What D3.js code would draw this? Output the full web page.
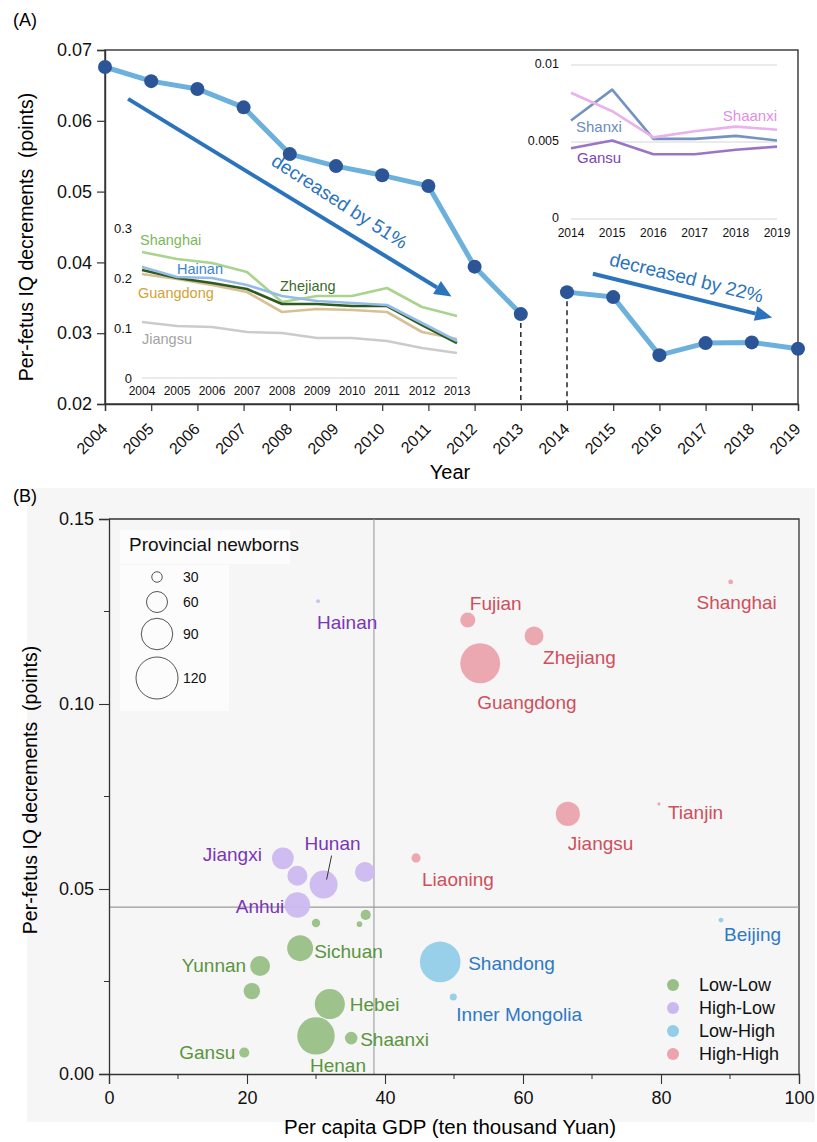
<!DOCTYPE html>
<html>
<head>
<meta charset="utf-8">
<script src="https://cdn.jsdelivr.net/npm/d3@7"></script>
<style>
  html, body { margin: 0; padding: 0; background: #ffffff; }
  svg { display: block; font-family: "Liberation Sans", Arial, Helvetica, sans-serif; }
</style>
</head>
<body>
<svg id="chart" width="817" height="1142"></svg>
<script>
// ---------- Panel A: national trend ----------
const yearsA = [2004, 2005, 2006, 2007, 2008, 2009, 2010, 2011, 2012, 2013, 2014, 2015, 2016, 2017, 2018, 2019];
const iqNational = [0.0676, 0.0656, 0.0645, 0.0619, 0.0553, 0.0536, 0.0523, 0.0508, 0.0394, 0.0327,
                    0.0358, 0.0351, 0.0269, 0.0286, 0.0287, 0.0278];
const yTicksA = [0.02, 0.03, 0.04, 0.05, 0.06, 0.07];

// Provincial detail, 2004-2013
const yearsEarly = [2004, 2005, 2006, 2007, 2008, 2009, 2010, 2011, 2012, 2013];
const shanghaiEarly  = [0.252, 0.238, 0.230, 0.212, 0.152, 0.164, 0.164, 0.180, 0.142, 0.124];
const hainanEarly    = [0.222, 0.202, 0.200, 0.186, 0.164, 0.154, 0.150, 0.146, 0.110, 0.074];
const zhejiangEarly  = [0.216, 0.200, 0.190, 0.178, 0.148, 0.148, 0.144, 0.144, 0.106, 0.070];
const guangdongEarly = [0.208, 0.198, 0.186, 0.172, 0.132, 0.138, 0.136, 0.132, 0.092, 0.078];
const jiangsuEarly   = [0.112, 0.104, 0.102, 0.092, 0.090, 0.080, 0.080, 0.074, 0.060, 0.050];
const yTicksEarly = [0, 0.1, 0.2, 0.3];

// Provincial detail, 2014-2019
const yearsLate = [2014, 2015, 2016, 2017, 2018, 2019];
const shanxiLate  = [0.0064, 0.0084, 0.0052, 0.0052, 0.0054, 0.0051];
const shaanxiLate = [0.0082, 0.0070, 0.0053, 0.0057, 0.0060, 0.0058];
const gansuLate   = [0.0046, 0.0051, 0.0042, 0.0042, 0.0045, 0.0047];
const yTicksLate = [0, 0.005, 0.01];

// ---------- Panel B: provinces ----------
const provinces = ["Shanghai", "Fujian", "Zhejiang", "Guangdong", "Jiangsu", "Tianjin", "Liaoning",
                   "Beijing", "Shandong", "Inner Mongolia",
                   "Hainan", "Jiangxi", "", "Hunan", "", "Anhui",
                   "", "", "", "Sichuan", "Yunnan", "", "Hebei", "Henan", "Shaanxi", "Gansu"];
const gdp = [90.1, 52.0, 61.6, 53.8, 66.5, 79.7, 44.5,
             88.7, 48.0, 49.9,
             30.3, 25.2, 27.3, 31.1, 37.1, 27.3,
             30.0, 36.3, 37.2, 27.7, 21.9, 20.7, 32.0, 30.0, 35.1, 19.6];
const iqProvince = [0.1330, 0.1227, 0.1184, 0.1110, 0.0703, 0.0730, 0.0584,
                    0.0416, 0.0303, 0.0208,
                    0.1278, 0.0583, 0.0536, 0.0512, 0.0546, 0.0457,
                    0.0408, 0.0405, 0.0430, 0.0340, 0.0292, 0.0224, 0.0189, 0.0103, 0.0097, 0.0058];
const newborns = [14, 43, 54, 114, 69, 9, 26,
                  14, 116, 20,
                  11, 62, 57, 80, 57, 73,
                  24, 16, 29, 74, 57, 47, 86, 107, 36, 29];
const quadrant = ["HH", "HH", "HH", "HH", "HH", "HH", "HH",
                  "LH", "LH", "LH",
                  "HL", "HL", "HL", "HL", "HL", "HL",
                  "LL", "LL", "LL", "LL", "LL", "LL", "LL", "LL", "LL", "LL"];
const quadrantKeys = ["LL", "HL", "LH", "HH"];
const quadrantNames = ["Low-Low", "High-Low", "Low-High", "High-High"];
const sizeLegend = [30, 60, 90, 120];
const gdpThreshold = 38.4;
const iqThreshold = 0.0451;
const xTicksB = [0, 20, 40, 60, 80, 100];
const yTicksB = [0, 0.05, 0.10, 0.15];

const svg = d3.select("#chart");

// ================= Panel A =================
const xA = d3.scaleLinear().domain([2004, 2019]).range([105, 798]);
const yA = d3.scaleLinear().domain([0.02, 0.07]).range([404, 50]);

svg.append("text").attr("x", 13).attr("y", 26).attr("font-size", 18).text("(A)");

// frame
svg.append("rect").attr("x", 105).attr("y", 50).attr("width", 693).attr("height", 354)
  .attr("fill", "none").attr("stroke", "#333").attr("stroke-width", 1.4);

// y axis
const gyA = svg.append("g").attr("transform", "translate(105,0)")
  .call(d3.axisLeft(yA).tickValues(yTicksA).tickFormat(d3.format(".2f")).tickSize(8).tickPadding(5));
gyA.select(".domain").attr("stroke", "#333").attr("stroke-width", 1.4);
gyA.selectAll(".tick line").attr("stroke", "#333").attr("stroke-width", 1.2);
gyA.selectAll(".tick text").attr("font-size", 18).attr("fill", "#111").attr("font-family", null);

// x axis
const gxA = svg.append("g").attr("transform", "translate(0,404)")
  .call(d3.axisBottom(xA).tickValues(yearsA).tickFormat(d3.format("d")).tickSize(7));
gxA.select(".domain").attr("stroke", "#333").attr("stroke-width", 1.4);
gxA.selectAll(".tick line").attr("stroke", "#333").attr("stroke-width", 1.2);
gxA.selectAll(".tick text").attr("font-size", 16).attr("fill", "#111").attr("font-family", null)
  .attr("text-anchor", "end").attr("dy", null).attr("y", 0)
  .attr("transform", "translate(3,26) rotate(-45)");

svg.append("text").attr("x", 450).attr("y", 479).attr("text-anchor", "middle")
  .attr("font-size", 20).text("Year");
svg.append("text").attr("transform", "translate(33,237) rotate(-90)").attr("text-anchor", "middle")
  .attr("font-size", 19.5).attr("xml:space", "preserve").text("Per-fetus IQ decrements  (points)");

// ---- inset: 2004-2013 provinces ----
const xIn1 = d3.scaleLinear().domain([2004, 2013]).range([142, 457]);
const yIn1 = d3.scaleLinear().domain([0, 0.3]).range([378, 228]);
svg.append("line").attr("x1", 142).attr("x2", 457).attr("y1", yIn1(0)).attr("y2", yIn1(0))
  .attr("stroke", "#d6d6d6").attr("stroke-width", 1);
svg.append("g").selectAll("text").data(yTicksEarly).join("text")
  .attr("x", 132).attr("y", d => yIn1(d)).attr("dy", "0.35em").attr("text-anchor", "end")
  .attr("font-size", 13).attr("fill", "#111").text(d => d === 0 ? "0" : d3.format(".1f")(d));
svg.append("g").selectAll("text").data(yearsEarly).join("text")
  .attr("x", d => xIn1(d)).attr("y", 395).attr("text-anchor", "middle")
  .attr("font-size", 12).attr("fill", "#111").text(d => d);

const lineIn1 = d3.line().x((d, i) => xIn1(yearsEarly[i])).y(d => yIn1(d));
const earlySeries = [
  { v: jiangsuEarly, stroke: "#cbcbcb", name: "Jiangsu", color: "#a3a3a3", lx: 142, ly: 344 },
  { v: shanghaiEarly, stroke: "#a9d48d", name: "Shanghai", color: "#7cb85c", lx: 140, ly: 245 },
  { v: guangdongEarly, stroke: "#d8c095", name: "Guangdong", color: "#d4a233", lx: 138, ly: 298 },
  { v: zhejiangEarly, stroke: "#2f5a1e", name: "Zhejiang", color: "#3c6a2a", lx: 280, ly: 291 },
  { v: hainanEarly, stroke: "#93bde8", name: "Hainan", color: "#3d83d2", lx: 177, ly: 274 }
];
earlySeries.forEach(s => {
  svg.append("path").attr("d", lineIn1(s.v)).attr("fill", "none")
    .attr("stroke", s.stroke).attr("stroke-width", 2.6).attr("stroke-linejoin", "round");
});
earlySeries.forEach(s => {
  svg.append("text").attr("x", s.lx).attr("y", s.ly).attr("font-size", 14.5).attr("fill", s.color).text(s.name);
});

// ---- inset: 2014-2019 provinces ----
const xIn2 = d3.scaleLinear().domain([2014, 2019]).range([571, 777]);
const yIn2 = d3.scaleLinear().domain([0, 0.01]).range([219, 65]);
svg.append("g").selectAll("line").data(yTicksLate).join("line")
  .attr("x1", 571).attr("x2", 777).attr("y1", d => yIn2(d)).attr("y2", d => yIn2(d))
  .attr("stroke", "#d6d6d6").attr("stroke-width", 1);
svg.append("g").selectAll("text").data(yTicksLate).join("text")
  .attr("x", 559).attr("y", d => yIn2(d)).attr("dy", "0.2em").attr("text-anchor", "end")
  .attr("font-size", 12.5).attr("fill", "#111").text(d => d === 0 ? "0" : String(d));
svg.append("g").selectAll("text").data(yearsLate).join("text")
  .attr("x", d => xIn2(d)).attr("y", 237).attr("text-anchor", "middle")
  .attr("font-size", 12).attr("fill", "#111").text(d => d);

const lineIn2 = d3.line().x((d, i) => xIn2(yearsLate[i])).y(d => yIn2(d));
const lateSeries = [
  { v: gansuLate, stroke: "#9c74c4", name: "Gansu", color: "#7d45b3", lx: 577, ly: 163, anchor: "start" },
  { v: shanxiLate, stroke: "#7492c2", name: "Shanxi", color: "#6a8bc0", lx: 576, ly: 132, anchor: "start" },
  { v: shaanxiLate, stroke: "#e8b2ea", name: "Shaanxi", color: "#e08fe2", lx: 777, ly: 121, anchor: "end" }
];
lateSeries.forEach(s => {
  svg.append("path").attr("d", lineIn2(s.v)).attr("fill", "none")
    .attr("stroke", s.stroke).attr("stroke-width", 2.6).attr("stroke-linejoin", "round");
});
lateSeries.forEach(s => {
  svg.append("text").attr("x", s.lx).attr("y", s.ly).attr("text-anchor", s.anchor)
    .attr("font-size", 15).attr("fill", s.color).text(s.name);
});

// ---- trend arrows ----
function arrow(x1, y1, x2, y2, color) {
  const ang = Math.atan2(y2 - y1, x2 - x1);
  const headLen = 17, headHalf = 7.5;
  const bx = x2 - headLen * Math.cos(ang), by = y2 - headLen * Math.sin(ang);
  svg.append("line").attr("x1", x1).attr("y1", y1).attr("x2", bx).attr("y2", by)
    .attr("stroke", color).attr("stroke-width", 4);
  const px = -Math.sin(ang), py = Math.cos(ang);
  svg.append("polygon").attr("fill", color)
    .attr("points", [[x2, y2], [bx + px * headHalf, by + py * headHalf], [bx - px * headHalf, by - py * headHalf]].map(p => p.join(",")).join(" "));
  return ang * 180 / Math.PI;
}
const arrowBlue = "#2b74bd";
const a1 = arrow(xA(2004.5), yA(0.0631), xA(2011.5), yA(0.0352), arrowBlue);
svg.append("text").attr("transform", `translate(336,207) rotate(${a1 + 1.5})`).attr("text-anchor", "middle")
  .attr("font-size", 19).attr("fill", arrowBlue).text("decreased by 51%");
const a2 = arrow(xA(2014.56), yA(0.0384), xA(2018.44), yA(0.0322), arrowBlue);
svg.append("text").attr("transform", `translate(685,284) rotate(${a2})`).attr("text-anchor", "middle")
  .attr("font-size", 19).attr("fill", arrowBlue).text("decreased by 22%");

// ---- national series (drawn as two segments around the 2013/2014 break) ----
const partEarly = iqNational.slice(0, 10), partLate = iqNational.slice(10);
svg.append("path").attr("d", d3.line().x((d, i) => xA(yearsA[i])).y(d => yA(d))(partEarly))
  .attr("fill", "none").attr("stroke", "#6cb1dc").attr("stroke-width", 5).attr("stroke-linejoin", "round");
svg.append("path").attr("d", d3.line().x((d, i) => xA(yearsA[i + 10])).y(d => yA(d))(partLate))
  .attr("fill", "none").attr("stroke", "#6cb1dc").attr("stroke-width", 5).attr("stroke-linejoin", "round");

[2013, 2014].forEach(yr => {
  const v = iqNational[yearsA.indexOf(yr)];
  svg.append("line").attr("x1", xA(yr)).attr("x2", xA(yr)).attr("y1", yA(v)).attr("y2", yA(0.02))
    .attr("stroke", "#333").attr("stroke-width", 1.6).attr("stroke-dasharray", "5,4");
});

svg.append("g").selectAll("circle").data(iqNational).join("circle")
  .attr("cx", (d, i) => xA(yearsA[i])).attr("cy", d => yA(d)).attr("r", 7)
  .attr("fill", "#2b5597");

// ================= Panel B =================
svg.append("rect").attr("x", 27).attr("y", 488).attr("width", 788).attr("height", 634).attr("fill", "#f6f6f6");
svg.append("text").attr("x", 13).attr("y", 502).attr("font-size", 18).text("(B)");

const xB = d3.scaleLinear().domain([0, 100]).range([109, 799]);
const yB = d3.scaleLinear().domain([0, 0.15]).range([1074, 519]);
const rB = d3.scaleLinear().domain([0, 120]).range([0, 21]);

// legend backing panels
svg.append("rect").attr("x", 120).attr("y", 530).attr("width", 170).attr("height", 34).attr("fill", "#fcfcfc");
svg.append("rect").attr("x", 120).attr("y", 565).attr("width", 109).attr("height", 146).attr("fill", "#fcfcfc");

// frame top/right
svg.append("path").attr("d", `M${xB(0)},${yB(0.15)}H${xB(100)}V${yB(0)}`)
  .attr("fill", "none").attr("stroke", "#333").attr("stroke-width", 1.3);

// quadrant reference lines
svg.append("line").attr("x1", xB(gdpThreshold)).attr("x2", xB(gdpThreshold)).attr("y1", yB(0.15)).attr("y2", yB(0))
  .attr("stroke", "#9a9a9a").attr("stroke-width", 1.1);
svg.append("line").attr("x1", xB(0)).attr("x2", xB(100)).attr("y1", yB(iqThreshold)).attr("y2", yB(iqThreshold))
  .attr("stroke", "#9a9a9a").attr("stroke-width", 1.1);

// axes with minor ticks
const gyB = svg.append("g").attr("transform", `translate(${xB(0)},0)`)
  .call(d3.axisLeft(yB).tickValues(yTicksB).tickFormat(d3.format(".2f")).tickSize(10).tickPadding(5));
gyB.append("g").selectAll("line").data([0.025, 0.075, 0.125]).join("line")
  .attr("x1", -5).attr("x2", 0).attr("y1", d => yB(d)).attr("y2", d => yB(d)).attr("stroke", "#333");
const gxB = svg.append("g").attr("transform", `translate(0,${yB(0)})`)
  .call(d3.axisBottom(xB).tickValues(xTicksB).tickSize(10).tickPadding(7));
gxB.append("g").selectAll("line").data([10, 30, 50, 70, 90]).join("line")
  .attr("x1", d => xB(d)).attr("x2", d => xB(d)).attr("y1", 0).attr("y2", 5).attr("stroke", "#333");
[gyB, gxB].forEach(g => {
  g.select(".domain").attr("stroke", "#333").attr("stroke-width", 1.3);
  g.selectAll(".tick line").attr("stroke", "#333").attr("stroke-width", 1.1);
  g.selectAll(".tick text").attr("font-size", 18).attr("fill", "#111").attr("font-family", null);
});

svg.append("text").attr("x", 450).attr("y", 1134).attr("text-anchor", "middle")
  .attr("font-size", 20.5).text("Per capita GDP (ten thousand Yuan)");
svg.append("text").attr("transform", "translate(37,790) rotate(-90)").attr("text-anchor", "middle")
  .attr("font-size", 19.5).attr("xml:space", "preserve").text("Per-fetus IQ decrements  (points)");

const fillColor = { LL: "#98bf86", HL: "#ccb8ef", LH: "#93cde8", HH: "#eba3ad" };
const textColor = { LL: "#5a953d", HL: "#7a36b6", LH: "#2f79c5", HH: "#cf4f5b" };

// bubbles, largest first so small ones stay visible
const rows = provinces.map((p, i) => ({ p, x: gdp[i], y: iqProvince[i], n: newborns[i], q: quadrant[i] }));
svg.append("g").selectAll("circle").data(rows.slice().sort((a, b) => b.n - a.n)).join("circle")
  .attr("cx", d => xB(d.x)).attr("cy", d => yB(d.y)).attr("r", d => rB(d.n))
  .attr("fill", d => fillColor[d.q]).attr("fill-opacity", 0.95);

// label placement relative to each bubble
const labelPlacement = {
  "Shanghai": [6, 20, "middle"], "Fujian": [2, -17, "start"], "Zhejiang": [9, 21, "start"],
  "Guangdong": [-3, 39, "start"], "Jiangsu": [0, 29, "start"], "Tianjin": [9, 8, "start"],
  "Liaoning": [6, 21, "start"], "Beijing": [3, 14, "start"], "Shandong": [28, 1, "start"],
  "Inner Mongolia": [3, 17, "start"], "Hainan": [-1, 21, "start"], "Jiangxi": [-21, -4, "end"],
  "Hunan": [9, -41, "middle"], "Anhui": [-13, 1, "end"], "Sichuan": [14, 3, "start"],
  "Yunnan": [-14, -1, "end"], "Hebei": [20, 0, "start"], "Henan": [-6, 29, "start"],
  "Shaanxi": [9, 1, "start"], "Gansu": [-9, 0, "end"]
};
svg.append("g").selectAll("text").data(rows.filter(d => d.p)).join("text")
  .attr("x", d => xB(d.x) + labelPlacement[d.p][0])
  .attr("y", d => yB(d.y) + labelPlacement[d.p][1])
  .attr("dy", "0.35em").attr("text-anchor", d => labelPlacement[d.p][2])
  .attr("font-size", 19).attr("fill", d => textColor[d.q]).text(d => d.p);

// Hunan leader line
const hunan = rows.find(d => d.p === "Hunan");
svg.append("line").attr("x1", xB(hunan.x) + 8).attr("y1", yB(hunan.y) - 29)
  .attr("x2", xB(hunan.x) + 3).attr("y2", yB(hunan.y) - 5).attr("stroke", "#333").attr("stroke-width", 1);

// size legend
svg.append("text").attr("x", 129).attr("y", 551).attr("font-size", 19).attr("fill", "#111").text("Provincial newborns");
const sizeY = [577, 602, 634, 678];
sizeLegend.forEach((v, i) => {
  svg.append("circle").attr("cx", 157).attr("cy", sizeY[i]).attr("r", rB(v))
    .attr("fill", "none").attr("stroke", "#555").attr("stroke-width", 1);
  svg.append("text").attr("x", 183).attr("y", sizeY[i]).attr("dy", "0.35em")
    .attr("font-size", 14).attr("fill", "#111").text(v);
});

// quadrant legend
quadrantKeys.forEach((k, i) => {
  const cy = 985 + i * 23;
  svg.append("circle").attr("cx", 673).attr("cy", cy).attr("r", 6).attr("fill", fillColor[k]);
  svg.append("text").attr("x", 699).attr("y", cy).attr("dy", "0.35em")
    .attr("font-size", 18).attr("fill", "#111").text(quadrantNames[i]);
});
</script>
</body>
</html>
